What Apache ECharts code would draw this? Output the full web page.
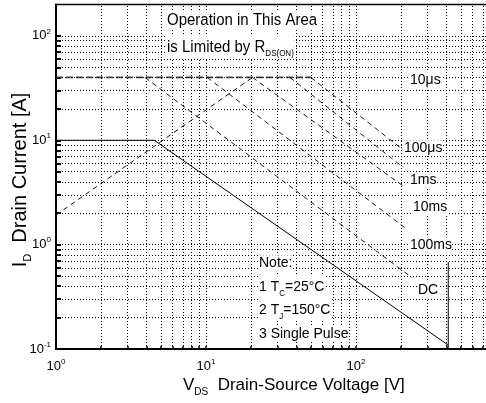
<!DOCTYPE html>
<html><head><meta charset="utf-8">
<script src="https://cdn.jsdelivr.net/npm/echarts@6/dist/echarts.min.js"></script>
<style>html,body{margin:0;padding:0;background:#fff}#c{width:486px;height:403px}</style>
</head><body><div id="c"></div>
<script>
// ---- axis ticks / grid values ----
const xMajorTicks = [1, 10, 100];
const yMajorTicks = [0.1, 1, 10, 100];
const xGridValues = [2,3,4,5,6,7,8,9,10,20,30,40,50,60,70,80,90,100,200,300,400,500,600,700,800,900];
const yGridValues = [0.2,0.3,0.4,0.5,0.6,0.7,0.8,0.9,1,2,3,4,5,6,7,8,9,10,20,30,40,50,60,70,80,90,100];

// ---- curves, [V_DS (V), I_D (A)] ----
const limitSolid = [[1,10],[4.52,10],[412,0.109]];
const vdssLimit = [[412,0.1],[412,0.68]];
const rdsOnLimit = [[1,1.92],[20.4,40]];
const pulse10us = [[1,40],[50,40]];
const pulse100us = [[50,40],[206,8.1]];
const pulse1ms = [[36.3,40],[206,5.5]];
const pulse10ms = [[20.4,40],[206,3.65]];
const pulse100ms = [[10.2,40],[222,1.38]];
const pulseDC = [[3.92,40],[237,0.48]];

// ---- texts ----
const curveLabels = ['10μs','100μs','1ms','10ms','100ms','DC'];
const noteLines = ['Note:','1 T{sub|C}=25°C','2 T{sub|J}=150°C','3 Single Pulse'];

const FONT = "'Liberation Sans', Arial, sans-serif";
const chart = echarts.init(document.getElementById('c'));

function powLabel(v){
  const e = Math.log10(v), r = Math.round(e);
  if (Math.abs(e - r) > 1e-6) return '';
  return '{b|10}{s|' + r + '}';
}
const labelRich = {
  b:{fontSize:13, fontFamily:FONT, color:'#000'},
  s:{fontSize:8, fontFamily:FONT, color:'#000', padding:[0,0,9,0]}
};

function dashed(data, type, color, width){
  return {type:'line', data, symbol:'none', silent:true,
    lineStyle:{type, color, width}, z:3};
}

const labelPos = [[410,80],[404,148],[410,180],[413,207],[410,245],[418,290]];
const notePos = [263,287,310,334];

const graphics = [];
graphics.push({type:'text', x:167, y:20, z:100, scaleY:1.1, style:{text:'Operation in This Area', font:'15px '+FONT, fill:'#000', verticalAlign:'middle', backgroundColor:'#fff'}});
graphics.push({type:'text', x:167, y:47, z:100, scaleY:1.1, style:{text:'is Limited by R{sub|DS(ON)}', font:'15px '+FONT, fill:'#000', verticalAlign:'middle', backgroundColor:'#fff',
  rich:{sub:{fontSize:8, fontFamily:FONT, padding:[12,0,0,0]}}}});
curveLabels.forEach((t,i)=>{
  graphics.push({type:'text', x:labelPos[i][0], y:labelPos[i][1], z:100, scaleY:1.1, style:{text:t, font:'14px '+FONT, fill:'#000', verticalAlign:'middle', backgroundColor:'#fff'}});
});
noteLines.forEach((t,i)=>{
  graphics.push({type:'text', x:259, y:notePos[i], z:100, scaleY:1.1, style:{text:t, font:'14px '+FONT, fill:'#000', verticalAlign:'middle', backgroundColor:'#fff',
    rich:{sub:{fontSize:8, fontFamily:FONT, padding:[12,0,0,0]}}}});
});
graphics.push({type:'text', x:183, y:385, z:100, style:{text:'V{sub|DS}  Drain-Source Voltage [V]', font:'17px '+FONT, fill:'#000', verticalAlign:'middle',
  rich:{sub:{fontSize:10, fontFamily:FONT, padding:[14,0,0,0]}}}});
graphics.push({type:'text', x:20, y:180, rotation:Math.PI/2, z:100, style:{text:'I{sub|D}  Drain Current [A]', font:'20px '+FONT, fill:'#000', align:'center', verticalAlign:'middle',
  rich:{sub:{fontSize:11, fontFamily:FONT, padding:[15,0,0,0]}}}});

const option = {
  animation:false,
  backgroundColor:'#fff',
  grid:{left:56, top:4.5, width:450, height:344.5, show:true, borderColor:'#000', borderWidth:1.5,
    backgroundColor:'transparent', containLabel:false, outerBoundsMode:'none'},
  xAxis:{type:'log', logBase:10, min:1, max:1000,
    axisLine:{lineStyle:{color:'#000', width:2}},
    axisTick:{show:true, inside:true, length:3, customValues:xGridValues, lineStyle:{color:'#000', width:1.5}},
    splitLine:{show:false},
    axisLabel:{formatter:powLabel, rich:labelRich, margin:9, customValues:xMajorTicks}},
  yAxis:{type:'log', logBase:10, min:0.1, max:200,
    axisLine:{lineStyle:{color:'#000', width:2}},
    axisTick:{show:true, inside:true, length:5, customValues:yGridValues, lineStyle:{color:'#000', width:2}},
    splitLine:{show:false},
    axisLabel:{formatter:powLabel, rich:labelRich, margin:5, customValues:yMajorTicks}},
  series:[
    {type:'line', data:[[1,1]], symbol:'none', silent:true, lineStyle:{width:0},
     markLine:{silent:true, symbol:'none', label:{show:false},
       lineStyle:{type:[1,2], color:'#000', width:1},
       data:[...xGridValues.map(v=>({xAxis:v})), ...yGridValues.map(v=>({yAxis:v}))]}},
    dashed(limitSolid,'solid','#000',1),
    dashed(vdssLimit,'solid','#000',1),
    dashed(rdsOnLimit,[5,4],'#111',1),
    dashed(pulse10us,[7,3],'#444',1.8),
    dashed(pulse100us,[5,4],'#1a1a1a',1),
    dashed(pulse1ms,[5,4],'#1a1a1a',1),
    dashed(pulse10ms,[5,4],'#1a1a1a',1),
    dashed(pulse100ms,[5,4],'#1a1a1a',1),
    dashed(pulseDC,[5,4],'#1a1a1a',1)
  ],
  graphic:graphics
};
chart.setOption(option);
</script></body></html>
